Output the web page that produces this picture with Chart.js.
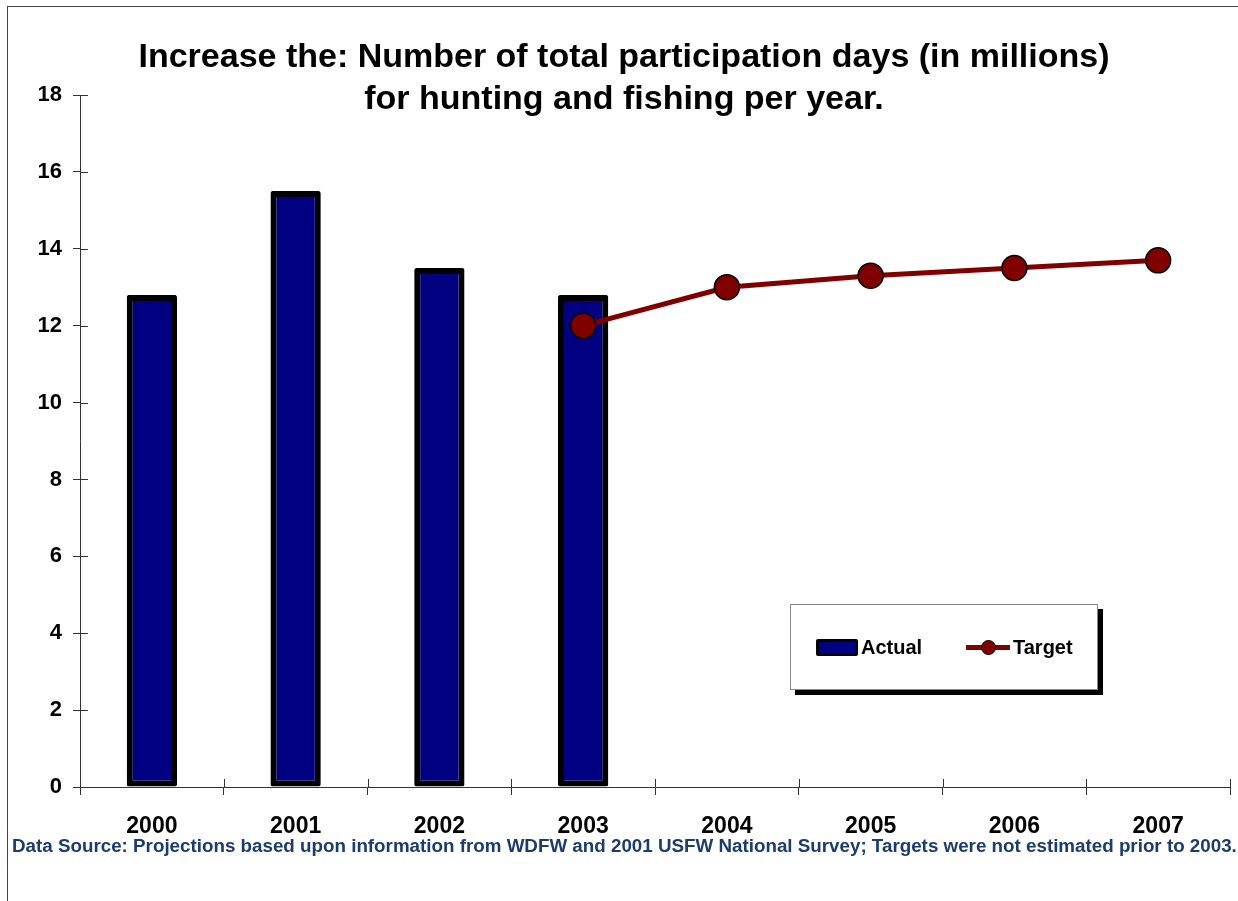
<!DOCTYPE html>
<html>
<head>
<meta charset="utf-8">
<script src="https://cdn.jsdelivr.net/npm/chart.js@4.4.1/dist/chart.umd.min.js"></script>
<style>
  html, body { margin: 0; padding: 0; background: #fff; }
  body { width: 1238px; height: 901px; position: relative; overflow: hidden; font-family: Arial, "Liberation Sans", sans-serif; }
  #frame { position: absolute; left: 7px; top: 6px; width: 1300px; height: 1000px; border: 1px solid #444; }
  #chart { position: absolute; left: 0; top: 0; }
  #title { position: absolute; left: 0; width: 1248px; top: 34px; text-align: center; font-weight: bold; font-size: 34px; line-height: 42px; color: #000; }
  #source { position: absolute; left: 12px; top: 835px; font-weight: bold; font-size: 18.8px; color: #1a3c6e; white-space: nowrap; }
  #legend { position: absolute; left: 790px; top: 604px; width: 306px; height: 84px; border: 1px solid #888; background: #fff; box-shadow: 5px 5px 0 #000; }
  .item { position: absolute; top: 31px; font-weight: bold; font-size: 20px; line-height: 22px; display: flex; align-items: center; }
  .swatch { width: 36px; height: 11px; background: #000080; border: 3px solid #000; border-radius: 2px; margin-right: 3px; }
  .lineKey { position: relative; width: 44px; height: 5px; background: #800000; margin-right: 3px; }
  .lineKey span { position: absolute; left: 15px; top: -5px; width: 13px; height: 13px; border-radius: 50%; background: #800000; border: 1px solid #000; }
</style>
</head>
<body>
<div id="frame"></div>
<canvas id="chart" width="1238" height="901"></canvas>
<div id="title">Increase the: Number of total participation days (in millions)<br>for hunting and fishing per year.</div>
<div id="legend">
  <div class="item" style="left:25px"><div class="swatch"></div>Actual</div>
  <div class="item" style="left:175px"><div class="lineKey"><span></span></div>Target</div>
</div>
<div id="source">Data Source: Projections based upon information from WDFW and 2001 USFW National Survey; Targets were not estimated prior to 2003.</div>
<script>
const years = ['2000', '2001', '2002', '2003', '2004', '2005', '2006', '2007'];
const actual = [12.8, 15.5, 13.5, 12.8, null, null, null, null];
const target = [null, null, null, 12.0, 13.0, 13.3, 13.5, 13.7];

// short tick stubs pointing into the plot area (ticks cross the axes)
const innerTicks = {
  id: 'innerTicks',
  afterDraw(chart) {
    const ctx = chart.ctx;
    const x = chart.scales.x, y = chart.scales.y;
    ctx.save();
    ctx.strokeStyle = '#333';
    ctx.lineWidth = 1;
    ctx.beginPath();
    y.ticks.forEach((t, i) => {
      const py = Math.round(y.getPixelForTick(i)) + 0.5;
      ctx.moveTo(y.right, py);
      ctx.lineTo(y.right + 8, py);
    });
    for (let i = 0; i <= years.length; i++) {
      const px = Math.round(x.left + (x.right - x.left) * i / years.length) + 0.5;
      ctx.moveTo(px, x.top);
      ctx.lineTo(px, x.top - 8);
    }
    ctx.stroke();
    ctx.restore();
  }
};

new Chart(document.getElementById('chart'), {
  type: 'bar',
  data: {
    labels: years,
    datasets: [
      {
        type: 'line', label: 'Target', data: target, order: 0,
        borderColor: '#800000', borderWidth: 5, backgroundColor: '#800000',
        pointRadius: 12.5, pointBorderColor: '#000', pointBorderWidth: 1.5,
        pointBackgroundColor: '#800000', tension: 0, spanGaps: false
      },
      {
        label: 'Actual', data: actual, order: 1,
        backgroundColor: '#000080', borderColor: '#000', borderWidth: 6,
        borderSkipped: false, borderRadius: 2,
        barPercentage: 0.35, categoryPercentage: 1
      }
    ]
  },
  options: {
    responsive: false,
    animation: false,
    layout: { autoPadding: false, padding: { left: 0, top: 95, right: 8, bottom: 54 } },
    plugins: { legend: { display: false }, tooltip: { enabled: false }, title: { display: false } },
    scales: {
      x: {
        afterFit: s => { s.height = 60; s.paddingLeft = 0; s.paddingRight = 0; },
        grid: { offset: true, drawOnChartArea: false, tickLength: 8, color: '#333' },
        border: { color: '#333', width: 1 },
        ticks: { color: '#000', font: { family: 'Arial, "Liberation Sans"', size: 23, weight: 'bold' }, padding: 18 }
      },
      y: {
        min: 0, max: 18,
        afterFit: s => { s.width = 80; },
        grid: { drawOnChartArea: false, tickLength: 7, color: '#333' },
        border: { color: '#333', width: 1 },
        ticks: { stepSize: 2, color: '#000', font: { family: 'Arial, "Liberation Sans"', size: 22, weight: 'bold' }, padding: 11 }
      }
    }
  },
  plugins: [innerTicks]
});
</script>
</body>
</html>
